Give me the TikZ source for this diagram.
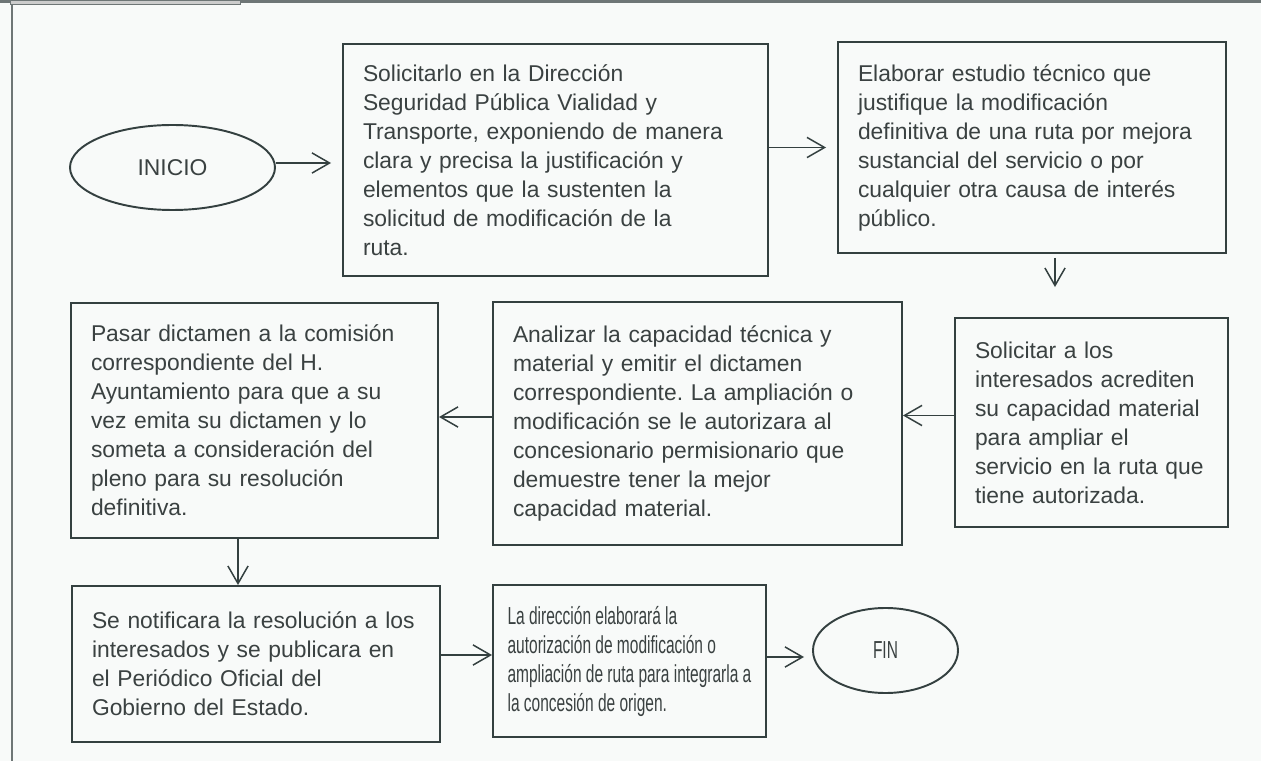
\documentclass[tikz,border=0pt]{standalone}
\usepackage{fontspec}
\setmainfont{Liberation Sans}
\newfontfamily\narrowfont[FakeStretch=0.63]{Liberation Sans}
\usetikzlibrary{positioning, arrows.meta, shapes.geometric, calc}
\usepackage{xcolor}
\definecolor{inkgray}{HTML}{3A4141}
\definecolor{edgegray}{HTML}{344040}
\definecolor{paper}{HTML}{F8FAF9}
\definecolor{framegray}{HTML}{6E7676}
\frenchspacing

\begin{document}
\begin{tikzpicture}[
      every node/.style={font=\fontsize{13}{16.5}\selectfont, text=inkgray},
      stage/.style={draw=edgegray, line width=1.1pt, inner xsep=0.4cm,
                    inner ysep=0pt, align=left},
      terminal/.style={draw=edgegray, line width=1.1pt, ellipse, inner sep=0pt},
      narrow/.style={font=\narrowfont\fontsize{14}{16.5}\selectfont},
      link/.style={->, draw=edgegray, line width=0.85pt},
      >={Straight Barb[length=10pt, width=11.5pt]},
    ]
    \useasboundingbox[fill=paper] (0,0) rectangle (25.22,-15.22);

    % page frame
    \draw[framegray, line width=1.2pt] (0,-0.03) -- (25.22,-0.03);
    \draw[framegray, line width=0.9pt] (0.24,0) -- (0.24,-15.22);
    \draw[framegray, fill=gray!40, line width=0.4pt] (0.2,0) rectangle (4.8,-0.08);

    \node[terminal, minimum width=4.1cm, minimum height=1.7cm] (inicio) at (3.45, -3.35) {INICIO};
    \node[stage, text width=7.7cm, minimum height=4.64cm] (solicitud) at (11.11, -3.2)
      {Solicitarlo en la Dirección\\ Seguridad Pública Vialidad y\\ Transporte, exponiendo de manera\\
       clara y precisa la justificación y\\ elementos que la sustenten la\\ solicitud de modificación de la\\ ruta.};
    \node[stage, text width=6.96cm, minimum height=4.22cm] (estudio) at (20.64, -2.95)
      {Elaborar estudio técnico que\\ justifique la modificación\\ definitiva de una ruta por mejora\\
       sustancial del servicio o por\\ cualquier otra causa de interés\\ público.};
    \node[stage, text width=4.66cm, minimum height=4.18cm] (acreditar) at (21.83, -8.45)
      {Solicitar a los\\ interesados acrediten\\ su capacidad material\\ para ampliar el\\
       servicio en la ruta que\\ tiene autorizada.};
    \node[stage, text width=7.38cm, minimum height=4.86cm] (dictamen) at (13.95, -8.47)
      {Analizar la capacidad técnica y\\ material y emitir el dictamen\\ correspondiente. La ampliación o\\
       modificación se le autorizara al\\ concesionario permisionario que\\ demuestre tener la mejor\\ capacidad material.};
    \node[stage, text width=6.54cm, minimum height=4.70cm] (comision) at (5.09, -8.41)
      {Pasar dictamen a la comisión\\ correspondiente del H.\\ Ayuntamiento para que a su\\
       vez emita su dictamen y lo\\ someta a consideración del\\ pleno para su resolución\\ definitiva.};
    \node[stage, text width=6.56cm, minimum height=3.12cm] (notifica) at (5.12, -13.28)
      {Se notificara la resolución a los\\ interesados y se publicara en\\ el Periódico Oficial del\\ Gobierno del Estado.};
    \node[stage, narrow, inner xsep=0.1cm, minimum width=5.46cm, minimum height=3.04cm] (autoriza) at (12.59, -13.22)
      {La dirección elaborará la\\ autorización de modificación o\\ ampliación de ruta para integrarla a\\ la concesión de origen.};
    \node[terminal, narrow, minimum width=2.9cm, minimum height=1.7cm] (fin) at (17.71, -13.01) {FIN};

    \coordinate (p1) at ([yshift=0.09cm]inicio.east);
    \coordinate (p2) at ([xshift=0.46cm]estudio.south);
    \coordinate (p3) at ([yshift=0.14cm]acreditar.west);
    \coordinate (p4) at ([yshift=0.13cm]dictamen.west);
    \coordinate (p5) at ([xshift=-0.33cm]comision.south);
    \coordinate (p6) at ([yshift=0.18cm]notifica.east);
    \coordinate (p7) at ([yshift=0.08cm]autoriza.east);

    \draw[link, shorten >=0.22cm] (p1) -- (p1 -| solicitud.west);
    \draw[link, shorten >=0.22cm] (solicitud.east |- estudio.west) -- (estudio.west);
    \draw[link, shorten <=0.08cm, shorten >=0.6cm] (p2) -- (p2 |- acreditar.north);
    \draw[link] (p3) -- (p3 -| dictamen.east);
    \draw[link] (p4) -- (p4 -| comision.east);
    \draw[link] (p5) -- (p5 |- notifica.north);
    \draw[link] (p6) -- (p6 -| autoriza.west);
    \draw[link, shorten >=0.16cm] (p7) -- (p7 -| fin.west);
  \end{tikzpicture}
\end{document}
